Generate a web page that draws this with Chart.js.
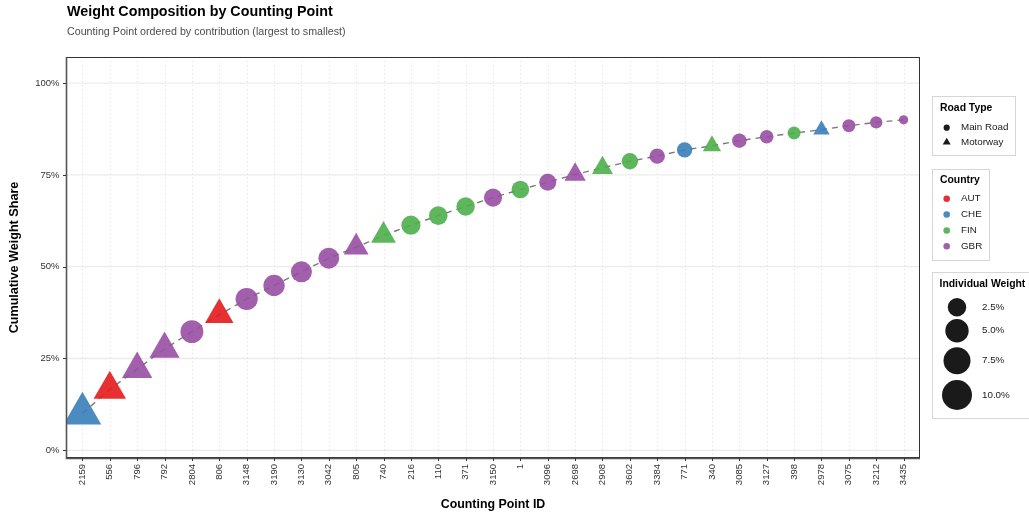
<!DOCTYPE html>
<html><head><meta charset="utf-8">
<script src="https://cdn.jsdelivr.net/npm/chart.js@4.4.1/dist/chart.umd.min.js"></script>
<style>html,body{margin:0;padding:0;background:#fff;}canvas{display:block;}</style>
</head><body>
<canvas id="c" width="1029" height="519"></canvas>
<script>
// ---- data ----
const countingPoints = ['2159','556','796','792','2804','806','3148','3190','3130','3042','805','740','216','110','371','3150','1','3096','2698','2908','3602','3384','771','340','3085','3127','398','2978','3075','3212','3435'];
const cumulativeShare = [10.0,16.6,22.1,27.6,32.3,36.9,41.2,44.9,48.6,52.3,55.3,58.5,61.3,63.9,66.4,68.8,71.0,73.0,75.1,76.9,78.7,80.1,81.8,82.9,84.3,85.4,86.4,87.3,88.4,89.3,90.0];
const individualWeight = [10.0,6.6,5.5,5.4,4.7,4.6,4.3,3.8,3.7,3.6,3.1,3.1,2.8,2.6,2.5,2.4,2.2,2.0,2.0,1.9,1.8,1.5,1.5,1.3,1.3,1.1,1.0,1.0,1.0,0.9,0.7];
const countries = ['CHE','AUT','GBR','GBR','GBR','AUT','GBR','GBR','GBR','GBR','GBR','FIN','FIN','FIN','FIN','GBR','FIN','GBR','GBR','FIN','FIN','GBR','CHE','FIN','GBR','GBR','FIN','CHE','GBR','GBR','GBR'];
const roadTypes = ['Motorway','Motorway','Motorway','Motorway','Main Road','Motorway','Main Road','Main Road','Main Road','Main Road','Motorway','Motorway','Main Road','Main Road','Main Road','Main Road','Main Road','Main Road','Motorway','Motorway','Main Road','Main Road','Main Road','Motorway','Main Road','Main Road','Main Road','Motorway','Main Road','Main Road','Main Road'];
const yTickValues = [0,25,50,75,100];
const countryNames = ['AUT','CHE','FIN','GBR'];
const roadTypeNames = ['Main Road','Motorway'];
const sizeLegendValues = [2.5,5.0,7.5,10.0];

// ---- styles ----
const countryColors = {AUT:'rgba(228,26,28,0.9)', CHE:'rgba(55,126,184,0.9)', FIN:'rgba(77,175,74,0.9)', GBR:'rgba(152,78,163,0.9)'};
const wMin = Math.min(...individualWeight), wMax = Math.max(...individualWeight);
function diam(w){ const t = Math.max(0,(w - wMin)/(wMax - wMin)); return 9.3 + 20.7*Math.sqrt(t); }
function radiusFor(w, road){ const d = diam(w); return road === 'Motorway' ? 1.45*d/2 : d/2; }

const FONT = '"Liberation Sans", Arial, Helvetica, sans-serif';
const pointData = countingPoints.map((_, i) => ({x: i, y: cumulativeShare[i]}));

const decor = {
  id: 'decor',
  beforeDatasetsDraw(chart){
    const {ctx, chartArea: a, scales: {x, y}} = chart;
    ctx.save();
    // horizontal major grid
    ctx.strokeStyle = '#ebebeb'; ctx.lineWidth = 1.3;
    yTickValues.forEach(v => { const py = y.getPixelForValue(v); ctx.beginPath(); ctx.moveTo(a.left, py); ctx.lineTo(a.right, py); ctx.stroke(); });
    // vertical dotted grid
    ctx.strokeStyle = '#dedede'; ctx.lineWidth = 1; ctx.setLineDash([1,3]);
    countingPoints.forEach((_, i) => { const px = Math.round(x.getPixelForValue(i)) + 0.5; ctx.beginPath(); ctx.moveTo(px, a.top); ctx.lineTo(px, a.bottom); ctx.stroke(); });
    ctx.setLineDash([]);
    ctx.restore();
  },
  afterDraw(chart){
    const {ctx, chartArea: a, scales: {x, y}} = chart;
    ctx.save();
    // panel border
    ctx.strokeStyle = '#333'; ctx.lineWidth = 1;
    ctx.strokeRect(a.left + 0.5, a.top + 0.5, a.right - a.left - 1, a.bottom - a.top - 1);
    ctx.strokeStyle = '#555'; ctx.lineWidth = 1.6;
    ctx.beginPath(); ctx.moveTo(a.left + 0.5, a.top); ctx.lineTo(a.left + 0.5, a.bottom + 0.5); ctx.lineTo(a.right, a.bottom + 0.5); ctx.stroke();
    // ticks
    ctx.strokeStyle = '#333'; ctx.lineWidth = 1;
    yTickValues.forEach(v => { const py = Math.round(y.getPixelForValue(v)) + 0.5; ctx.beginPath(); ctx.moveTo(a.left - 3, py); ctx.lineTo(a.left, py); ctx.stroke(); });
    countingPoints.forEach((_, i) => { const px = Math.round(x.getPixelForValue(i)) + 0.5; ctx.beginPath(); ctx.moveTo(px, a.bottom); ctx.lineTo(px, a.bottom + 3); ctx.stroke(); });

    // titles
    ctx.fillStyle = '#000'; ctx.textBaseline = 'middle'; ctx.textAlign = 'left';
    ctx.font = 'bold 14.3px ' + FONT;
    ctx.fillText('Weight Composition by Counting Point', 67, 12);
    ctx.fillStyle = '#4d4d4d'; ctx.font = '10.7px ' + FONT;
    ctx.fillText('Counting Point ordered by contribution (largest to smallest)', 67, 32.5);
    // axis titles
    ctx.fillStyle = '#000'; ctx.font = 'bold 12.4px ' + FONT; ctx.textAlign = 'center';
    ctx.fillText('Counting Point ID', (a.left + a.right) / 2, 505);
    ctx.save(); ctx.translate(15, (a.top + a.bottom) / 2); ctx.rotate(-Math.PI / 2);
    ctx.font = 'bold 12.6px ' + FONT; ctx.fillText('Cumulative Weight Share', 0, 0); ctx.restore();

    // legends
    const boxStroke = '#d6d6d6';
    const titleFont = 'bold 10.4px ' + FONT, itemFont = '9.8px ' + FONT;
    ctx.lineWidth = 1; ctx.textAlign = 'left';
    // Road Type
    ctx.strokeStyle = boxStroke; ctx.strokeRect(932.5, 96.5, 83, 59);
    ctx.fillStyle = '#000'; ctx.font = titleFont; ctx.fillText('Road Type', 940, 108);
    ctx.font = itemFont; ctx.fillStyle = '#1a1a1a';
    const rtY = [127.7, 142.3];
    roadTypeNames.forEach((n, i) => {
      const cy = rtY[i];
      ctx.beginPath();
      if (n === 'Motorway') { const r = 4.6; ctx.moveTo(946.7, cy - r); ctx.lineTo(946.7 + r*0.866, cy + r/2); ctx.lineTo(946.7 - r*0.866, cy + r/2); ctx.closePath(); }
      else ctx.arc(946.7, cy, 3.1, 0, Math.PI*2);
      ctx.fill();
      ctx.fillText(n, 961, cy);
    });
    // Country
    ctx.strokeStyle = boxStroke; ctx.strokeRect(932.5, 169.5, 57, 91);
    ctx.fillStyle = '#000'; ctx.font = titleFont; ctx.fillText('Country', 940, 180.5);
    ctx.font = itemFont;
    const cY = [198.7, 214.5, 230.5, 246.3];
    countryNames.forEach((n, i) => {
      ctx.fillStyle = countryColors[n]; ctx.beginPath(); ctx.arc(946.7, cY[i], 3.3, 0, Math.PI*2); ctx.fill();
      ctx.fillStyle = '#1a1a1a'; ctx.fillText(n, 961, cY[i]);
    });
    // Individual Weight
    ctx.strokeStyle = boxStroke; ctx.strokeRect(932.5, 272.5, 110, 146);
    ctx.fillStyle = '#000'; ctx.font = titleFont; ctx.fillText('Individual Weight', 939.5, 284.5);
    ctx.font = itemFont;
    const sY = [307.3, 330.7, 360.7, 395];
    sizeLegendValues.forEach((v, i) => {
      ctx.fillStyle = '#1a1a1a'; ctx.beginPath(); ctx.arc(957, sY[i], diam(v)/2, 0, Math.PI*2); ctx.fill();
      ctx.fillText(v.toFixed(1) + '%', 982, sY[i]);
    });
    ctx.restore();
  }
};

new Chart(document.getElementById('c'), {
  data: {
    datasets: [
      { type: 'line', data: pointData, borderColor: '#7a7a7a', borderWidth: 1.4, borderDash: [6,5], pointRadius: 0, tension: 0, fill: false, order: 2 },
      { type: 'scatter', data: pointData, order: 1,
        backgroundColor: countries.map(c => countryColors[c]),
        borderWidth: 0, borderColor: 'rgba(0,0,0,0)',
        pointStyle: roadTypes.map(r => r === 'Motorway' ? 'triangle' : 'circle'),
        pointRadius: individualWeight.map((w, i) => radiusFor(w, roadTypes[i])),
        pointHoverRadius: individualWeight.map((w, i) => radiusFor(w, roadTypes[i])) }
    ]
  },
  options: {
    responsive: false, animation: false, events: [],
    layout: { padding: { left: 0, top: 57, right: 109, bottom: 0 } },
    plugins: { legend: { display: false }, tooltip: { enabled: false }, title: { display: false } },
    scales: {
      x: { type: 'linear', min: -0.6, max: 30.6,
        grid: { display: false, drawTicks: false, tickLength: 0 }, border: { display: false },
        afterBuildTicks: s => { s.ticks = countingPoints.map((_, i) => ({ value: i })); },
        afterFit: s => { s.height = 61; },
        ticks: { autoSkip: false, minRotation: 90, maxRotation: 90, padding: 6, color: '#333',
          font: { family: FONT, size: 9.5 }, callback: v => countingPoints[v] } },
      y: { type: 'linear', min: -2.1, max: 107.1,
        grid: { display: false, drawTicks: false, tickLength: 0 }, border: { display: false },
        afterBuildTicks: s => { s.ticks = yTickValues.map(v => ({ value: v })); },
        afterFit: s => { s.width = 66; },
        ticks: { padding: 6.5, color: '#333', font: { family: FONT, size: 9.5 }, callback: v => v + '%' } }
    }
  },
  plugins: [decor]
});
</script>
</body></html>
